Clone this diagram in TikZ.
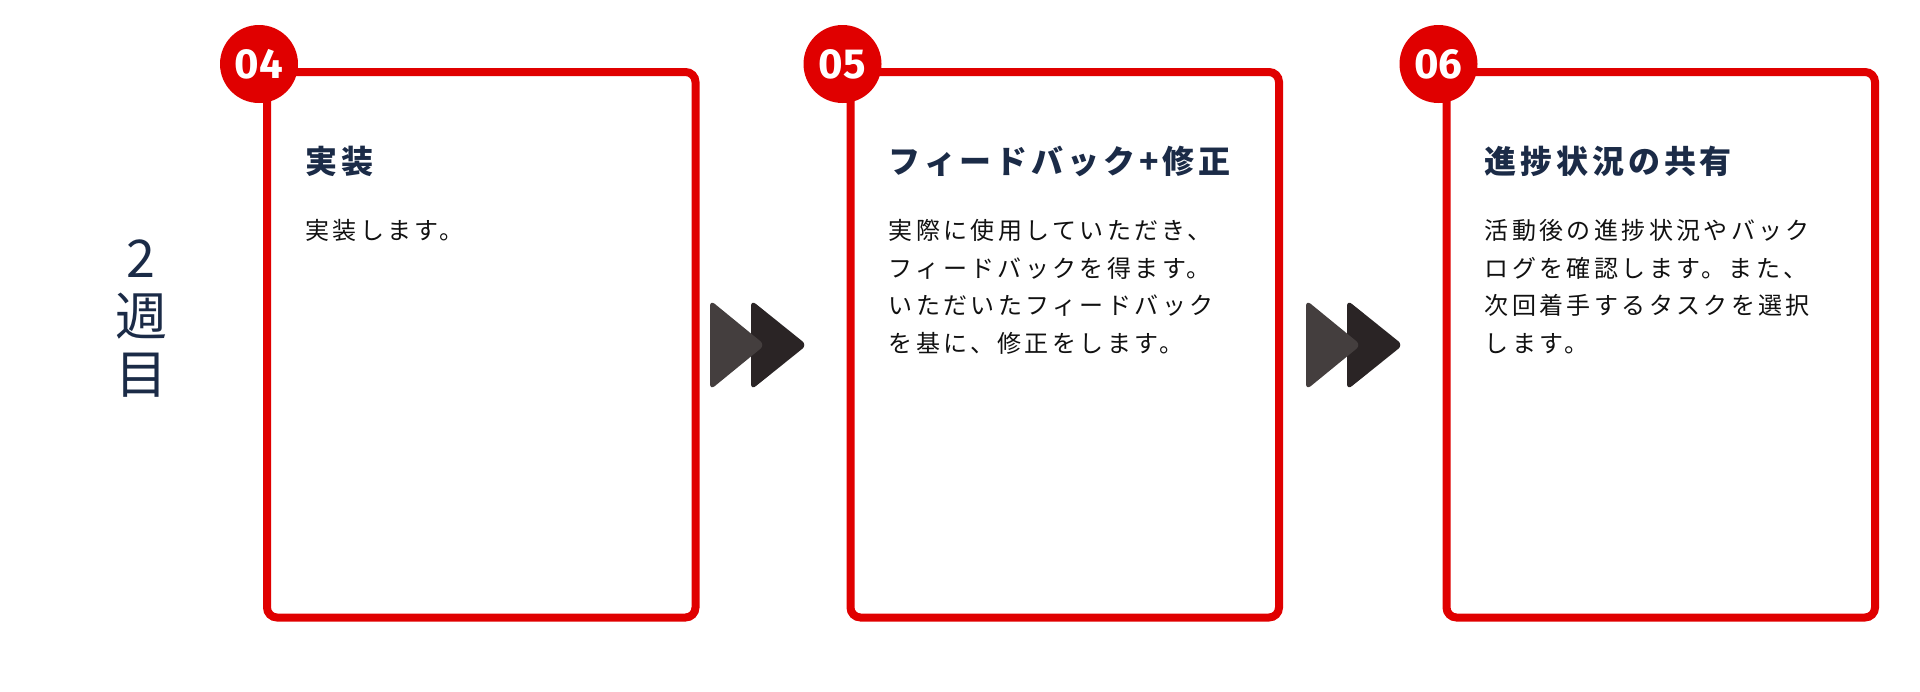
\documentclass[tikz,border=0pt]{standalone}
\usepackage{fontspec}
\setmainfont{Noto Sans CJK JP}
\newfontfamily\jpbody[LetterSpace=14]{Noto Sans CJK JP}
\newfontfamily\jptitle[LetterSpace=12]{Noto Sans CJK JP}
\newfontfamily\numfont{Fira Sans}
\usetikzlibrary{positioning}
\definecolor{cardred}{HTML}{E00000}
\definecolor{navy}{HTML}{1B2B47}
\definecolor{inkdark}{HTML}{2A2425}
\definecolor{inklight}{HTML}{443E3E}
\definecolor{bodyink}{HTML}{111111}

\begin{document}
\begin{tikzpicture}[x=0.5pt,y=-0.5pt,
  card/.style={rectangle,draw=cardred,fill=white,line width=4pt,rounded corners=5pt,minimum width=214.25pt,minimum height=272.75pt,inner sep=0pt},
  badge/.style={circle,fill=cardred,minimum size=39pt,inner sep=0pt,text=white,font=\numfont\bfseries\fontsize{21pt}{21pt}\selectfont},
  cardtitle/.style={anchor=north west,inner sep=0pt,text=navy,font=\jptitle\bfseries\fontsize{16pt}{16pt}\selectfont},
  cardbody/.style={anchor=north west,inner sep=0pt,align=left,text=bodyink,font=\jpbody\fontsize{12pt}{18.75pt}\selectfont},
  week/.style={align=center,inner sep=0pt,text=navy,font=\fontsize{26pt}{29pt}\selectfont}]
\useasboundingbox (0,0) rectangle (1920,691);

\node [week] (week) at (141,318.5) {2\\週\\目};

% cards
\node [card] (card1) at (481.25,344.75) {};
\node [card] (card2) at (1064.75,344.75) {};
\node [card] (card3) at (1660.75,344.75) {};

\node [badge] (num1) at ([shift={(-4,-4)}]card1.north west) {04};
\node [badge] (num2) at ([shift={(-4,-4)}]card2.north west) {05};
\node [badge] (num3) at ([shift={(-4,-4)}]card3.north west) {06};

\node [cardtitle] (title1) at ([shift={(42,78)}]card1.north west) {実装};
\node [cardbody] (text1) at ([shift={(42,151)}]card1.north west) {実装します。};

\node [cardtitle] (title2) at ([shift={(42,78)}]card2.north west) {フィードバック+修正};
\node [cardbody] (text2) at ([shift={(42,151)}]card2.north west) {実際に使用していただき、\\フィードバックを得ます。\\いただいたフィードバック\\を基に、修正をします。};

\node [cardtitle] (title3) at ([shift={(42,78)}]card3.north west) {進捗状況の共有};
\node [cardbody] (text3) at ([shift={(42,151)}]card3.north west) {活動後の進捗状況やバック\\ログを確認します。また、\\次回着手するタスクを選択\\します。};

% double arrows between cards
\foreach \ax in {710,1306} {
  \fill [inkdark,rounded corners=3pt] (\ax+41,300) -- (\ax+97,345) -- (\ax+41,390) -- cycle;
  \fill [inklight,rounded corners=3pt] (\ax,300) -- (\ax+55,345) -- (\ax,390) -- cycle;
}

\end{tikzpicture}
\end{document}
